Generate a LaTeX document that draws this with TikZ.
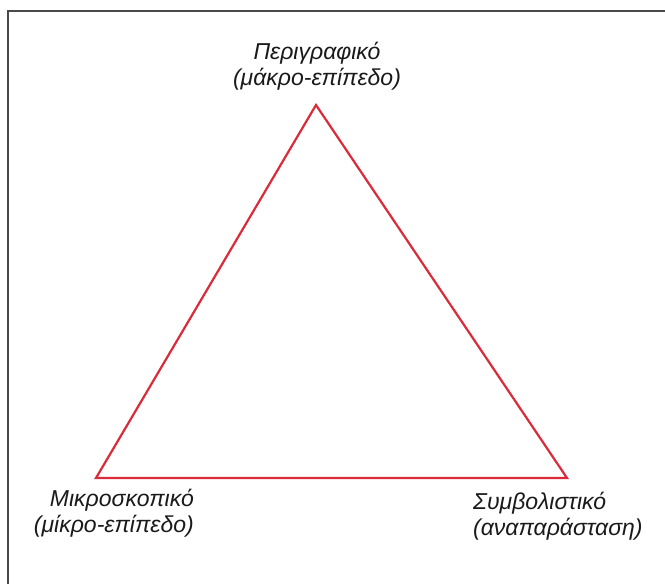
\documentclass[tikz,border=0pt]{standalone}
\usepackage{fontspec}
\setmainfont{Liberation Sans}
\usepackage{tikz}
\usetikzlibrary{positioning}
\definecolor{TriangleRed}{HTML}{D92B3A}
\definecolor{FrameGray}{HTML}{4A4A4A}
\definecolor{LabelText}{HTML}{1A1A1A}

\begin{document}
\begin{tikzpicture}[x=1pt, y=-1pt,
    label/.style={inner sep=0pt, text=LabelText, font=\fontsize{23}{26}\selectfont\itshape}]
    \useasboundingbox (0,0) rectangle (665,584);
    % frame (only top and left edges show)
    \draw[FrameGray, line width=1.8pt] (8,584) -- (8,11) -- (665,11);

    \coordinate (macro) at (316,105);
    \coordinate (micro) at (96,478);
    \coordinate (symbolic) at (567,478);
    \draw[TriangleRed, line width=2.2pt, line join=miter] (macro) -- (micro) -- (symbolic) -- cycle;

    \node[label, align=center, anchor=south] (macrolabel) at (317,90) {Περιγραφικό\\(μάκρο-επίπεδο)};
    \node[label, align=right, anchor=north east] (microlabel) at (194,489) {Μικροσκοπικό\\(μίκρο-επίπεδο)};
    \node[label, align=left, anchor=north west] (symboliclabel) at (473,492) {Συμβολιστικό\\(αναπαράσταση)};
\end{tikzpicture}
\end{document}
